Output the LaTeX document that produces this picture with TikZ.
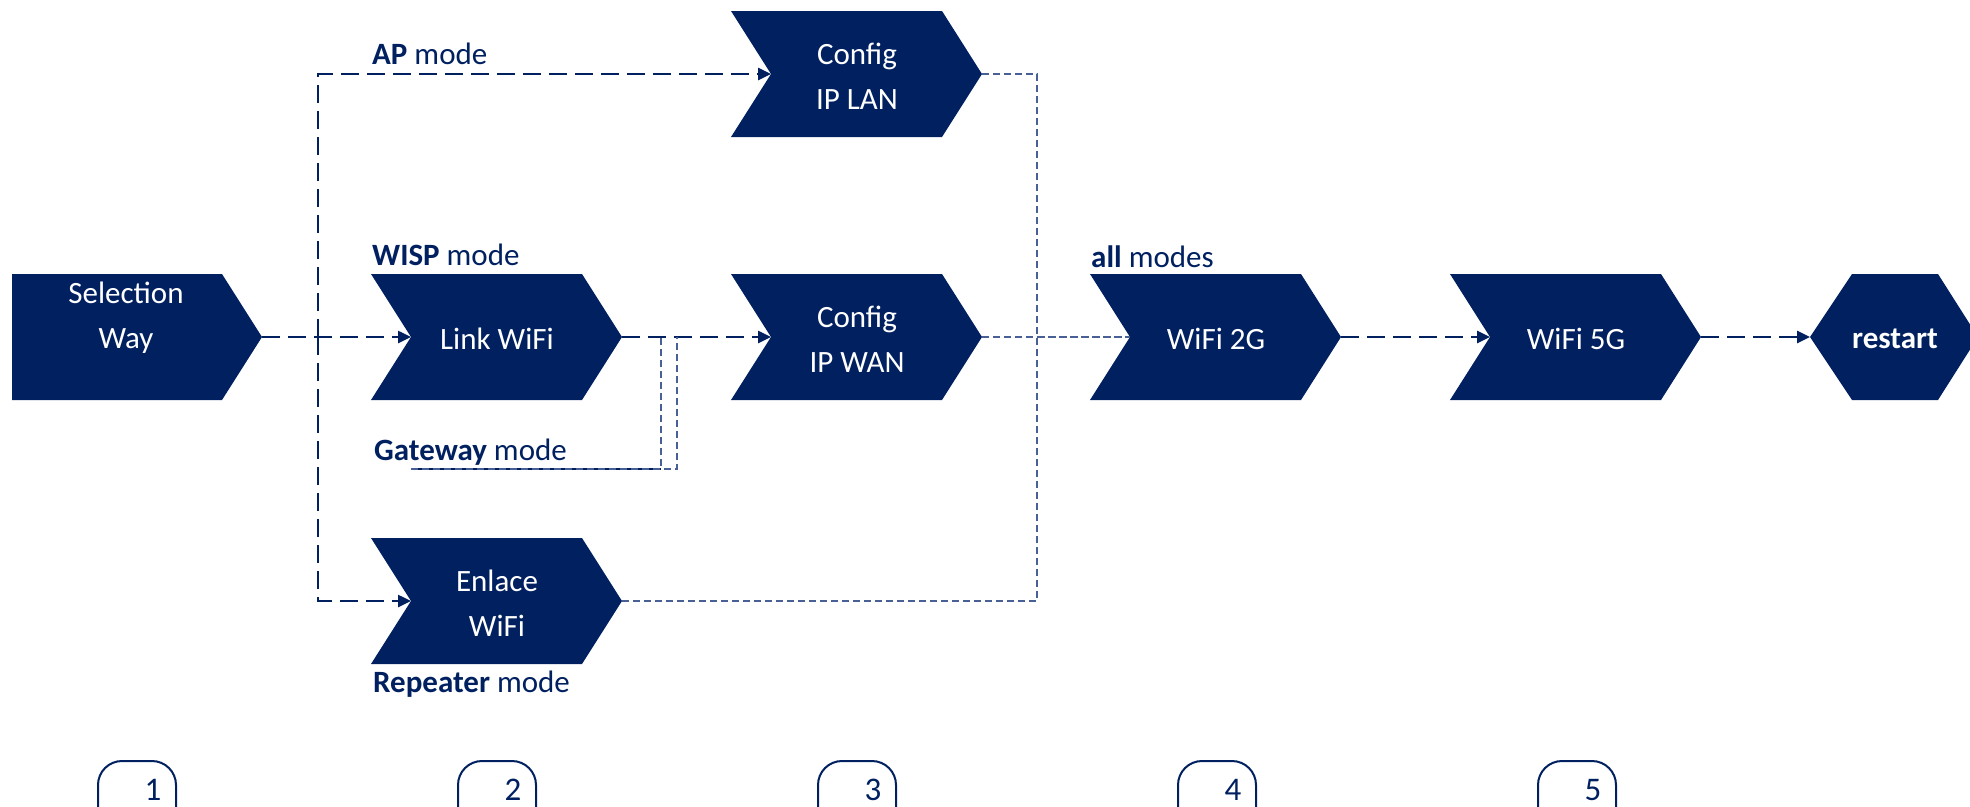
\documentclass[tikz,border=0pt]{standalone}
\usepackage{fontspec}
\setmainfont{Carlito}
\usetikzlibrary{arrows.meta}
\definecolor{mynavy}{RGB}{0,32,96}
\definecolor{mylight}{RGB}{72,96,150}
\tikzset{
  boxtext/.style={text=white, font=\fontsize{31}{45}\selectfont, align=center, inner sep=0pt},
  modelabel/.style={text=mynavy, font=\fontsize{31}{38}\selectfont, anchor=base west, inner sep=0pt},
  bigdash/.style={draw=mynavy, line width=2.5pt, dash pattern=on 18pt off 8pt},
  bigarrow/.style={bigdash, -{Triangle[length=13pt,width=12pt]}},
  smalldash/.style={draw=mylight, line width=1.4pt, dash pattern=on 7pt off 4pt},
  stepmark/.style={draw=mynavy, line width=2pt, rounded corners=24pt, minimum width=78pt, minimum height=80pt, inner sep=0pt},
  steptext/.style={text=mynavy, font=\fontsize{33}{38}\selectfont, anchor=base, inner sep=0pt},
}
\newcommand\chevshape[4]{%
  \fill[mynavy] (#2,#3-63) -- (#2+211,#3-63) -- (#2+251,#3) -- (#2+211,#3+63) -- (#2,#3+63) -- (#2+40,#3) -- cycle;
  \coordinate (#1-in) at (#2+40,#3);
  \coordinate (#1-out) at (#2+251,#3);
  \node[boxtext] (#1) at (#2+126,#3+2) {#4};
}
\begin{document}
\begin{tikzpicture}[x=1pt,y=-1pt]
\useasboundingbox (0,0) rectangle (1970,806);
\clip (0,0) rectangle (1970,806);
% Selection Way (pentagon)
\fill[mynavy] (12,274) -- (222,274) -- (262,337) -- (222,400) -- (12,400) -- cycle;
\coordinate (sel-out) at (262,337);
\node[boxtext] (sel) at (126,318) {Selection\\Way};
% chevrons
\chevshape{link}{371}{337}{Link WiFi}
\chevshape{lan}{731}{74}{Config\\IP LAN}
\chevshape{wan}{731}{337}{Config\\IP WAN}
\chevshape{enl}{371}{601}{Enlace\\WiFi}
\chevshape{gtwo}{1090}{337}{WiFi 2G}
\chevshape{gfive}{1450}{337}{WiFi 5G}
% restart hexagon
\fill[mynavy] (1810,337) -- (1852,274) -- (1938,274) -- (1978,337) -- (1938,400) -- (1852,400) -- cycle;
\coordinate (rst-in) at (1810,337);
\node[boxtext, font=\fontsize{31}{45}\selectfont\bfseries] (rst) at (1895,339) {restart};
% labels
\node[modelabel] (lap) at (372,64) {\textbf{AP} mode};
\node[modelabel] (lwisp) at (372,265) {\textbf{WISP} mode};
\node[modelabel] (lgw) at (374,460) {\textbf{Gateway} mode};
\node[modelabel] (lrep) at (373,692) {\textbf{Repeater} mode};
\node[modelabel] (lall) at (1091,267) {\textbf{all} modes};
% connectors
\coordinate (split) at (318,337);
\draw[bigarrow] (sel-out) -- (link-in);
\draw[bigarrow] (split) |- (lan-in);
\draw[bigarrow] (split) |- (enl-in);
\draw[bigarrow] (link-out) -- (wan-in);
\coordinate (gw) at (411,469);
\coordinate (gwa) at (661,337);
\coordinate (gwb) at (677,337);
\draw[mynavy, line width=1.4pt] (gw) -- (gw -| gwa);
\draw[smalldash] (gw) -| (gwa);
\draw[smalldash] (gw) -| (gwb);
\coordinate (bus) at (1037,337);
\draw[smalldash] (lan-out) -| (bus) -- (gtwo-in);
\draw[smalldash] (wan-out) -- (gtwo-in);
\draw[smalldash] (enl-out) -| (bus);
\draw[bigarrow] (gtwo-out) -- (gfive-in);
\draw[bigarrow] (gfive-out) -- (rst-in);
% step markers
\foreach \k in {1,...,5} {
  \node[stepmark] (s\k) at ({137+360*(\k-1)},801) {};
  \node[steptext] (t\k) at ({153+360*(\k-1)},800) {\k};
}
\end{tikzpicture}
\end{document}
